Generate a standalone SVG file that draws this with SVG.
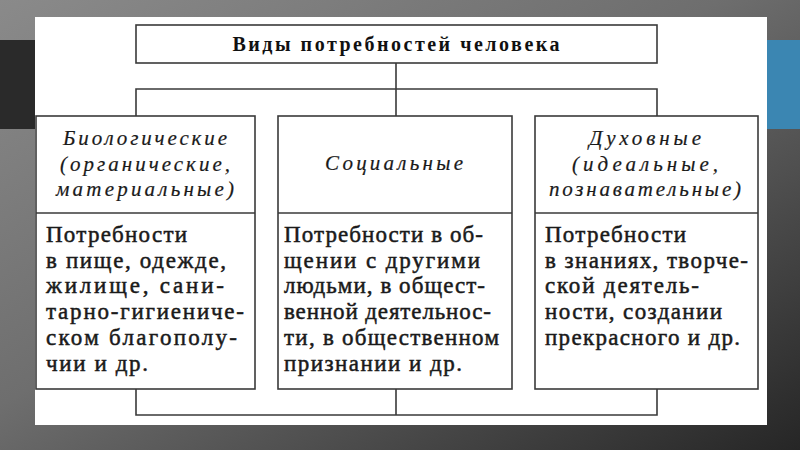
<svg xmlns="http://www.w3.org/2000/svg" width="800" height="450" viewBox="0 0 800 450">
<defs>
<linearGradient id="bg" x1="0" y1="0" x2="1" y2="1">
<stop offset="0" stop-color="#8a8a8a"/>
<stop offset="0.45" stop-color="#6e6e6e"/>
<stop offset="1" stop-color="#262626"/>
</linearGradient>
<style>
.box{fill:#fff;stroke:#3a3a3a;stroke-width:1.6}
.ln{fill:none;stroke:#3a3a3a;stroke-width:1.6}
.ttl{font-family:"Liberation Serif","DejaVu Serif",serif;font-weight:bold;font-size:20px;fill:#111;text-anchor:middle}
.hd{font-family:"Liberation Serif","DejaVu Serif",serif;font-style:italic;font-size:21px;fill:#1a1a1a;text-anchor:middle;stroke:#1a1a1a;stroke-width:0.2}
.bd{font-family:"Liberation Serif","DejaVu Serif",serif;font-size:23px;fill:#1a1a1a;stroke:#1a1a1a;stroke-width:0.5}
</style>
</defs>
<rect x="0" y="0" width="800" height="450" fill="url(#bg)"/>
<rect x="0" y="40" width="36" height="89" fill="#2a2a2a"/>
<rect x="766" y="40" width="34" height="89" fill="#3b86b2"/>
<rect x="35" y="17" width="732" height="408" fill="#fff"/>

<g id="connectors">
<path class="ln" d="M396 63 V116 M136 116 V89 H657 V116"/>
<path class="ln" d="M136 389 V415 H657 V389 M396 389 V415"/>
</g>

<g id="title">
<rect class="box" x="136" y="25" width="521" height="38"/>
<text class="ttl" x="396" y="51" textLength="327">Виды потребностей человека</text>
</g>

<g id="bio">
<rect class="box" x="36" y="116" width="219" height="273"/>
<line class="ln" x1="36" y1="213" x2="255" y2="213"/>
<text class="hd" x="145" y="145" textLength="164">Биологические</text>
<text class="hd" x="145" y="171" textLength="170">(органические,</text>
<text class="hd" x="145" y="196" textLength="178">материальные)</text>
<text class="bd" x="46" y="242" textLength="141">Потребности</text>
<text class="bd" x="46" y="268" textLength="180">в пище, одежде,</text>
<text class="bd" x="46" y="293" textLength="178">жилище, сани-</text>
<text class="bd" x="46" y="319" textLength="198">тарно-гигиениче-</text>
<text class="bd" x="46" y="345" textLength="191">ском благополу-</text>
<text class="bd" x="46" y="371" textLength="102">чии и др.</text>
</g>

<g id="social">
<rect class="box" x="278" y="116" width="234" height="273"/>
<line class="ln" x1="278" y1="213" x2="512" y2="213"/>
<text class="hd" x="394" y="170" textLength="138">Социальные</text>
<text class="bd" x="284" y="242" textLength="199">Потребности в об-</text>
<text class="bd" x="284" y="268" textLength="196">щении с другими</text>
<text class="bd" x="284" y="293" textLength="201">людьми, в общест-</text>
<text class="bd" x="284" y="319" textLength="207">венной деятельнос-</text>
<text class="bd" x="284" y="345" textLength="215">ти, в общественном</text>
<text class="bd" x="284" y="371" textLength="178">признании и др.</text>
</g>

<g id="spirit">
<rect class="box" x="535" y="116" width="223" height="273"/>
<line class="ln" x1="535" y1="213" x2="758" y2="213"/>
<text class="hd" x="645" y="145" textLength="112">Духовные</text>
<text class="hd" x="645" y="171" textLength="146">(идеальные,</text>
<text class="hd" x="645" y="196" textLength="192">познавательные)</text>
<text class="bd" x="545" y="242" textLength="141">Потребности</text>
<text class="bd" x="545" y="268" textLength="203">в знаниях, творче-</text>
<text class="bd" x="545" y="293" textLength="154">ской деятель-</text>
<text class="bd" x="545" y="319" textLength="177">ности, создании</text>
<text class="bd" x="545" y="345" textLength="195">прекрасного и др.</text>
</g>
</svg>
